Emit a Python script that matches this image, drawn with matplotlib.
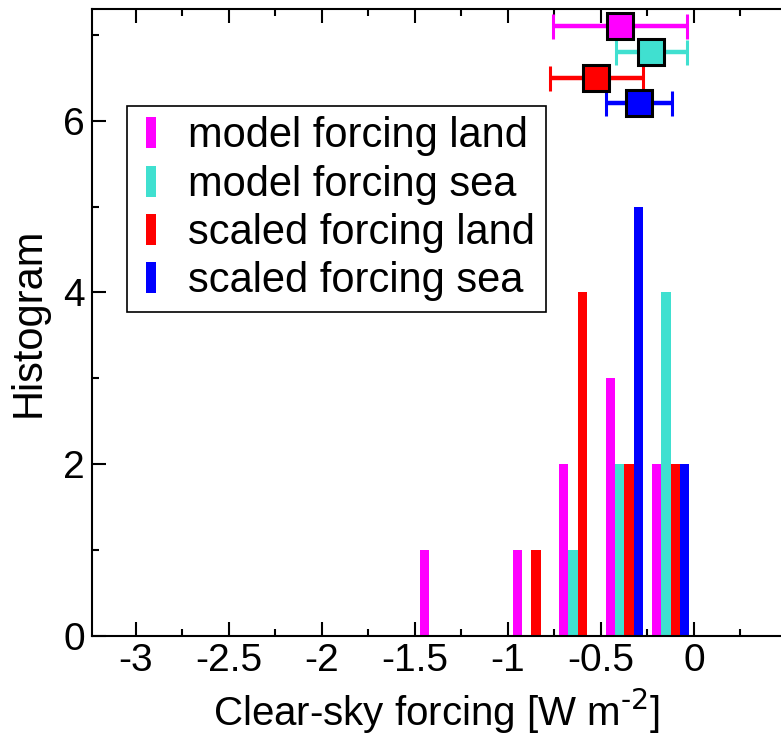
import matplotlib
matplotlib.use("Agg")
import matplotlib.pyplot as plt
from matplotlib.patches import Patch, Rectangle
from matplotlib.legend_handler import HandlerPatch
from matplotlib.ticker import MultipleLocator
import numpy as np

plt.rcParams['font.family'] = ['Liberation Sans', 'DejaVu Sans']
plt.rcParams['axes.unicode_minus'] = False

# ---- data ----
bin_left_edges = [-1.5, -1.25, -1.0, -0.75, -0.5, -0.25]
bar_width = 0.05
series_labels = ["model forcing land", "model forcing sea",
                 "scaled forcing land", "scaled forcing sea"]
series_colors = ["#ff00ff", "#40e0d0", "#ff0000", "#0000ff"]
counts_model_land = [1, 0, 1, 2, 3, 2]
counts_model_sea = [0, 0, 0, 1, 2, 4]
counts_scaled_land = [0, 0, 1, 4, 2, 2]
counts_scaled_sea = [0, 0, 0, 0, 5, 2]
all_counts = [counts_model_land, counts_model_sea,
              counts_scaled_land, counts_scaled_sea]

# summary (mean +/- spread) shown at top
mean_values = [-0.40, -0.23, -0.525, -0.297]
spread_values = [0.36, 0.19, 0.25, 0.177]
summary_y = [7.1, 6.8, 6.5, 6.2]

x_ticks = [-3, -2.5, -2, -1.5, -1, -0.5, 0]
x_tick_labels = ["-3", "-2.5", "-2", "-1.5", "-1", "-0.5", "0"]
y_ticks = [0, 2, 4, 6]

# ---- figure ----
W, H = 781, 741
fig = plt.figure(figsize=(W / 100, H / 100), dpi=100)
ax = fig.add_axes([91.7 / W, (H - 636) / H, 1 - 91.7 / W, (636 - 9) / H])

edges = np.array(bin_left_edges)
for i, (cnt, col) in enumerate(zip(all_counts, series_colors)):
    centers = edges + bar_width * (i + 1)
    ax.bar(centers, cnt, width=bar_width, color=col, edgecolor='none', zorder=2)

for m, s, yv, col in zip(mean_values, spread_values, summary_y, series_colors):
    ax.errorbar([m], [yv], xerr=[s], fmt='s', color=col, ecolor=col,
                elinewidth=3.2, capsize=9, capthick=3.2,
                markersize=18.5, markeredgecolor='black', markeredgewidth=2.2,
                zorder=4, clip_on=False)

ax.set_xlim(-3.238, 0.468)
ax.set_ylim(0, 7.3)

ax.set_xticks(x_ticks)
ax.set_xticklabels(x_tick_labels)
ax.set_yticks(y_ticks)
ax.xaxis.set_minor_locator(MultipleLocator(0.25))
ax.yaxis.set_minor_locator(MultipleLocator(1))

ax.tick_params(axis='both', which='both', direction='in', labelsize=28,
               width=1.5, colors='black')
ax.tick_params(axis='both', which='major', length=10, pad=5)
ax.tick_params(axis='both', which='minor', length=5)
ax.tick_params(axis='x', which='both', top=True, bottom=True)
ax.tick_params(axis='y', which='both', left=True, right=False)

for side in ['left', 'top', 'bottom']:
    ax.spines[side].set_linewidth(1.5)
ax.spines['right'].set_visible(False)

try:
    ax.set_xlabel(r"Clear-sky forcing [W m$^{\text{-2}}$]", fontsize=29, labelpad=6)
    fig.canvas.draw()
except Exception:
    ax.set_xlabel("Clear-sky forcing [W m$^{\\mathregular{-2}}$]", fontsize=29, labelpad=6)
ax.set_ylabel("Histogram", fontsize=30, labelpad=10)


def narrow_bar(legend, orig_handle, xdescent, ydescent, width, height, fontsize):
    return Rectangle((-xdescent + 6.5, -ydescent), 7.2, height)


handles = [Patch(facecolor=c, edgecolor='none', label=l)
           for c, l in zip(series_colors, series_labels)]
leg = ax.legend(handles=handles, loc='upper left',
                bbox_to_anchor=((127 - 91.7) / (W - 91.7), (636 - 106) / (636 - 9)),
                borderaxespad=0, fontsize=30, frameon=True, fancybox=False,
                framealpha=1, edgecolor='black', borderpad=0.25,
                labelspacing=0.2, handlelength=0.6, handleheight=0.77,
                handletextpad=0.62,
                handler_map={Patch: HandlerPatch(patch_func=narrow_bar)})
leg.get_frame().set_linewidth(1.2)

fig.savefig("out.png", dpi=100)
